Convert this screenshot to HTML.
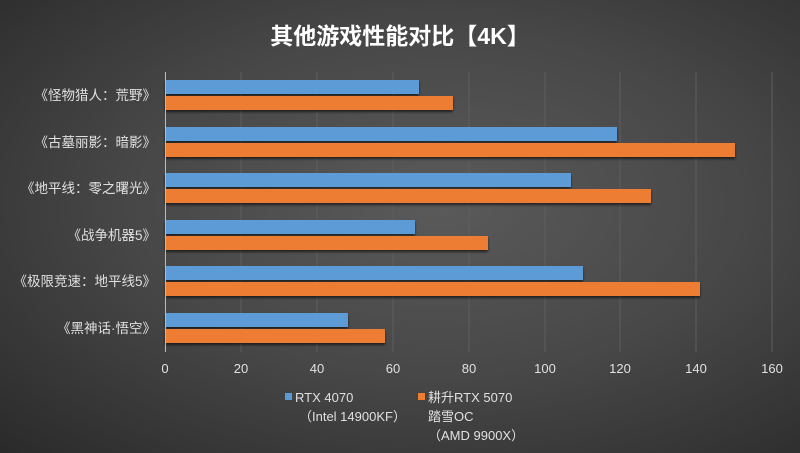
<!DOCTYPE html>
<html><head><meta charset="utf-8"><style>
body{margin:0;width:800px;height:453px;overflow:hidden;background:radial-gradient(ellipse at 55% 45%,#5a5a5a 0%,#474747 50%,#2a2a2a 100%);font-family:"Liberation Sans","Noto Sans CJK SC",sans-serif;}
</style></head><body>
<svg width="800" height="453" xmlns="http://www.w3.org/2000/svg" style="position:absolute;left:0;top:0">
<defs><filter id="s" x="-5%" y="-20%" width="110%" height="160%"><feDropShadow dx="0" dy="2" stdDeviation="1.2" flood-color="#000" flood-opacity="0.6"/></filter></defs>
<text x="400" y="44" text-anchor="middle" font-size="23" font-weight="bold" fill="#fff" font-family="Liberation Sans,Noto Sans CJK SC,sans-serif">其他游戏性能对比【4K】</text>
<g stroke="#5e5e5e" stroke-width="1">
<line x1="241" y1="72" x2="241" y2="352"/><line x1="317" y1="72" x2="317" y2="352"/><line x1="393" y1="72" x2="393" y2="352"/><line x1="469" y1="72" x2="469" y2="352"/><line x1="545" y1="72" x2="545" y2="352"/><line x1="620" y1="72" x2="620" y2="352"/><line x1="696" y1="72" x2="696" y2="352"/><line x1="772" y1="72" x2="772" y2="352"/>
</g>
<g filter="url(#s)">
<rect x="165" y="80" width="254" height="14" fill="#5b9bd5"/><rect x="165" y="96" width="288" height="14" fill="#ed7d31"/>
<rect x="165" y="127" width="452" height="14" fill="#5b9bd5"/><rect x="165" y="143" width="570" height="14" fill="#ed7d31"/>
<rect x="165" y="173" width="406" height="14" fill="#5b9bd5"/><rect x="165" y="189" width="486" height="14" fill="#ed7d31"/>
<rect x="165" y="220" width="250" height="14" fill="#5b9bd5"/><rect x="165" y="236" width="323" height="14" fill="#ed7d31"/>
<rect x="165" y="266" width="418" height="14" fill="#5b9bd5"/><rect x="165" y="282" width="535" height="14" fill="#ed7d31"/>
<rect x="165" y="313" width="183" height="14" fill="#5b9bd5"/><rect x="165" y="329" width="220" height="14" fill="#ed7d31"/>
</g>
<line x1="165.5" y1="72" x2="165.5" y2="352" stroke="#bbb" stroke-width="1"/>
<g fill="#e0e0e0" font-size="13.5" text-anchor="end">
<text x="156" y="100">《怪物猎人：荒野》</text>
<text x="156" y="147">《古墓丽影：暗影》</text>
<text x="156" y="193">《地平线：零之曙光》</text>
<text x="156" y="240">《战争机器5》</text>
<text x="156" y="286">《极限竞速：地平线5》</text>
<text x="156" y="333">《黑神话·悟空》</text>
</g>
<g fill="#e0e0e0" font-size="13" text-anchor="middle">
<text x="165" y="373">0</text><text x="241" y="373">20</text><text x="317" y="373">40</text><text x="393" y="373">60</text><text x="469" y="373">80</text><text x="545" y="373">100</text><text x="620" y="373">120</text><text x="696" y="373">140</text><text x="772" y="373">160</text>
</g>
<rect x="285" y="393" width="7" height="7" fill="#5b9bd5"/>
<rect x="418" y="393" width="7" height="7" fill="#ed7d31"/>
<g fill="#e0e0e0" font-size="13">
<text x="295" y="402">RTX 4070</text>
<text x="299" y="421">（Intel 14900KF）</text>
<text x="428" y="402">耕升RTX 5070</text>
<text x="428" y="421">踏雪OC</text>
<text x="428" y="440">（AMD 9900X）</text>
</g>
</svg>
</body></html>
